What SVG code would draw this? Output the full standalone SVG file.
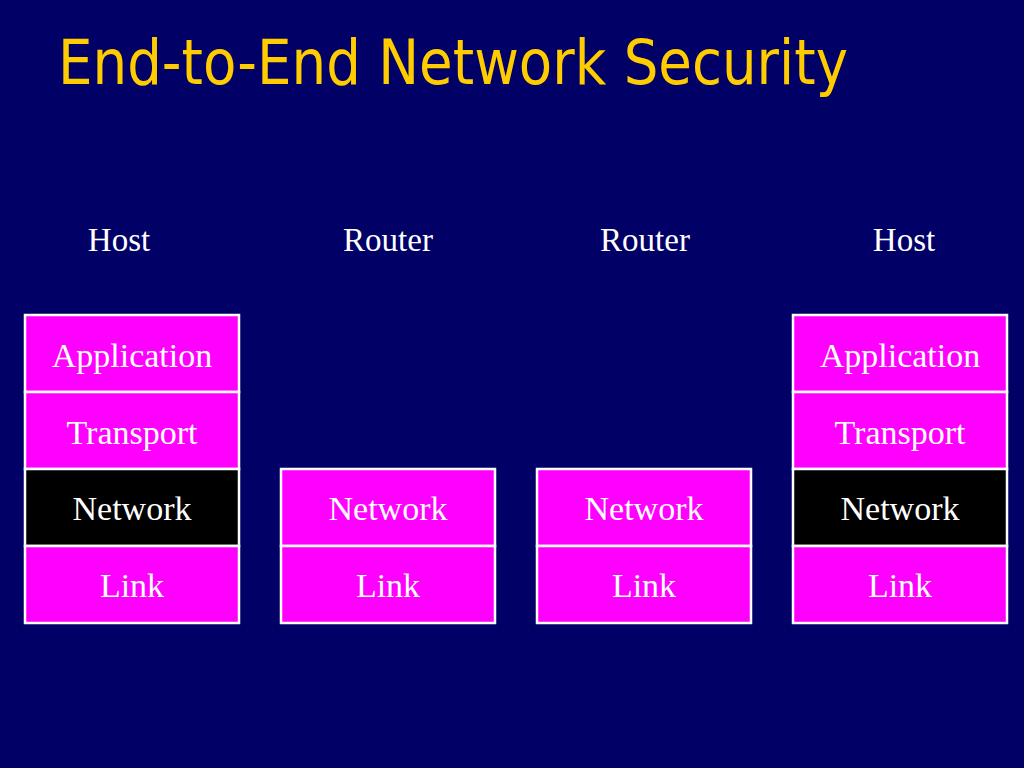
<svg xmlns="http://www.w3.org/2000/svg" width="1024" height="768" viewBox="0 0 1024 768">
<style>
.bg{fill:#000066}
.title{font-family:"Comic Sans MS","DejaVu Sans",sans-serif;font-size:63px;fill:#FFCC00}
.hdr{font-family:"Liberation Serif","Times New Roman",serif;font-size:33px;fill:#FFFFFF;text-anchor:middle}
.cell{fill:#FF00FF;stroke:#FFFFFF;stroke-width:2.5}
.cell.dark{fill:#000000}
.lbl{font-family:"Liberation Serif","Times New Roman",serif;font-size:34px;fill:#FFFFFF;text-anchor:middle}
</style>
<rect class="bg" x="0" y="0" width="1024" height="768"/>
<text class="title" x="58" y="84" textLength="790" lengthAdjust="spacingAndGlyphs">End-to-End Network Security</text>
<g id="labels">
<text class="hdr" x="119" y="251">Host</text>
<text class="hdr" x="388" y="251">Router</text>
<text class="hdr" x="645" y="251">Router</text>
<text class="hdr" x="904" y="251">Host</text>
</g>
<g id="host1">
<rect class="cell" x="25" y="315" width="214" height="77"/>
<text class="lbl" x="132" y="367">Application</text>
<rect class="cell" x="25" y="392" width="214" height="77"/>
<text class="lbl" x="132" y="444">Transport</text>
<rect class="cell dark" x="25" y="469" width="214" height="77"/>
<text class="lbl" x="132" y="520">Network</text>
<rect class="cell" x="25" y="546" width="214" height="77"/>
<text class="lbl" x="132" y="597">Link</text>
</g>
<g id="router1">
<rect class="cell" x="281" y="469" width="214" height="77"/>
<text class="lbl" x="388" y="520">Network</text>
<rect class="cell" x="281" y="546" width="214" height="77"/>
<text class="lbl" x="388" y="597">Link</text>
</g>
<g id="router2">
<rect class="cell" x="537" y="469" width="214" height="77"/>
<text class="lbl" x="644" y="520">Network</text>
<rect class="cell" x="537" y="546" width="214" height="77"/>
<text class="lbl" x="644" y="597">Link</text>
</g>
<g id="host2">
<rect class="cell" x="793" y="315" width="214" height="77"/>
<text class="lbl" x="900" y="367">Application</text>
<rect class="cell" x="793" y="392" width="214" height="77"/>
<text class="lbl" x="900" y="444">Transport</text>
<rect class="cell dark" x="793" y="469" width="214" height="77"/>
<text class="lbl" x="900" y="520">Network</text>
<rect class="cell" x="793" y="546" width="214" height="77"/>
<text class="lbl" x="900" y="597">Link</text>
</g>
<g id="connectors"/>
</svg>
